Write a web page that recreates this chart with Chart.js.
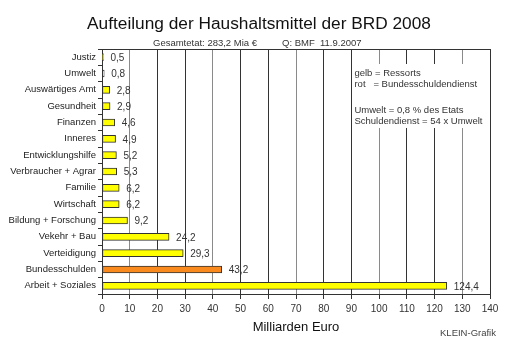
<!DOCTYPE html>
<html>
<head>
<meta charset="utf-8">
<script src="https://cdn.jsdelivr.net/npm/chart.js@4/dist/chart.umd.min.js"></script>
<style>
  html, body { margin: 0; padding: 0; background: #fff; }
  #wrap { width: 512px; height: 346px; }
</style>
</head>
<body>
<div id="wrap"><canvas id="chart" width="512" height="346"></canvas></div>
<script>
// Ressorts, top to bottom as in the picture
const categories = [
  'Justiz', 'Umwelt', 'Auswärtiges Amt', 'Gesundheit', 'Finanzen', 'Inneres',
  'Entwicklungshilfe', 'Verbraucher + Agrar', 'Familie', 'Wirtschaft',
  'Bildung + Forschung', 'Vekehr + Bau', 'Verteidigung', 'Bundesschulden',
  'Arbeit + Soziales',
];
// Milliarden Euro
const values = [0.5, 0.8, 2.8, 2.9, 4.6, 4.9, 5.2, 5.3, 6.2, 6.2, 9.2, 24.2, 29.3, 43.2, 124.4];
const debtCategory = 'Bundesschulden';
const xTicks = [0, 10, 20, 30, 40, 50, 60, 70, 80, 90, 100, 110, 120, 130, 140];

const titleText = 'Aufteilung der Haushaltsmittel der BRD 2008';
const subtitleLeft = 'Gesamtetat: 283,2 Mia €';
const subtitleRight = 'Q: BMF  11.9.2007';
const noteLines = [
  'gelb = Ressorts',
  'rot   = Bundesschuldendienst',
  'Umwelt = 0,8 % des Etats',
  'Schuldendienst = 54 x Umwelt',
];
const axisTitle = 'Milliarden Euro';
const credit = 'KLEIN-Grafik';

const FONT = '"Liberation Sans", Arial, sans-serif';
const fmt = (v) => v.toFixed(1).replace('.', ',');

// Draws the title, note box, value labels and footer text
const decorations = {
  id: 'decorations',
  beforeDatasetsDraw(chart) {
    const { ctx, chartArea: a } = chart;
    const x = chart.scales.x;
    ctx.save();
    // white box behind the note text, covering grid lines
    ctx.fillStyle = '#fff';
    ctx.fillRect(x.getPixelForValue(90) + 1, 64, a.right - x.getPixelForValue(90) - 2, 64);
    // frame around plot area
    ctx.strokeStyle = '#333';
    ctx.lineWidth = 1;
    ctx.strokeRect(Math.round(a.left) + 0.5, Math.round(a.top) + 0.5,
      Math.round(a.right - a.left), Math.round(a.bottom - a.top));
    ctx.restore();
  },
  afterDatasetsDraw(chart) {
    const { ctx } = chart;
    const meta = chart.getDatasetMeta(0);
    ctx.save();
    ctx.fillStyle = '#333';
    ctx.font = '10px ' + FONT;
    ctx.textBaseline = 'middle';
    ctx.textAlign = 'left';
    meta.data.forEach((bar, i) => {
      ctx.fillText(fmt(values[i]), bar.x + 7, bar.y + 1);
    });
    ctx.restore();
  },
  afterDraw(chart) {
    const { ctx, chartArea: a } = chart;
    const x = chart.scales.x;
    ctx.save();
    ctx.fillStyle = '#111';
    ctx.textBaseline = 'middle';
    ctx.textAlign = 'center';
    ctx.font = '17.3px ' + FONT;
    ctx.fillText(titleText, 259, 24);

    ctx.fillStyle = '#333';
    ctx.textAlign = 'left';
    ctx.font = '9.5px ' + FONT;
    ctx.fillText(subtitleLeft, 153, 43);
    ctx.fillText(subtitleRight, 282, 43);

    // note block: two pairs of lines with a blank line between
    ctx.font = '9.5px ' + FONT;
    const nx = x.getPixelForValue(90) + 3;
    const noteY = [73, 84, 110, 121];
    noteLines.forEach((line, i) => ctx.fillText(line, nx, noteY[i]));

    ctx.fillStyle = '#111';
    ctx.textAlign = 'center';
    ctx.font = '13px ' + FONT;
    ctx.fillText(axisTitle, (a.left + a.right) / 2, 327);

    ctx.fillStyle = '#444';
    ctx.font = '9.5px ' + FONT;
    ctx.fillText(credit, 468, 333);
    ctx.restore();
  },
};

new Chart(document.getElementById('chart'), {
  type: 'bar',
  data: {
    labels: categories,
    datasets: [{
      data: values,
      backgroundColor: categories.map((c) => (c === debtCategory ? '#fb8a1e' : '#ffff00')),
      borderColor: '#333',
      borderWidth: 1,
      borderSkipped: false,
      barThickness: 7,
    }],
  },
  options: {
    indexAxis: 'y',
    responsive: false,
    animation: false,
    layout: { padding: { left: 0, right: 22, top: 49, bottom: 0 } },
    plugins: {
      legend: { display: false },
      tooltip: { enabled: false },
      title: { display: false },
    },
    scales: {
      x: {
        min: 0,
        max: 140,
        afterBuildTicks: (scale) => { scale.ticks = xTicks.map((v) => ({ value: v })); },
        afterFit: (scale) => { scale.height = 52; },
        grid: {
          color: (c) => (c.tick && c.tick.value % 30 === 10 ? '#8a8a8a' : '#333'),
          lineWidth: 1,
          tickLength: 5,
          tickColor: '#333',
        },
        border: { display: true, color: '#333' },
        ticks: {
          color: '#333',
          font: { family: FONT, size: 10 },
          padding: 4,
          maxRotation: 0,
          autoSkip: false,
        },
      },
      y: {
        afterFit: (scale) => { scale.width = 102; },
        grid: {
          drawOnChartArea: false,
          tickLength: 4,
          tickColor: '#333',
        },
        border: { display: true, color: '#333' },
        ticks: {
          color: '#222',
          font: { family: FONT, size: 9.5 },
          padding: 2,
          autoSkip: false,
        },
      },
    },
  },
  plugins: [decorations],
});
</script>
</body>
</html>
